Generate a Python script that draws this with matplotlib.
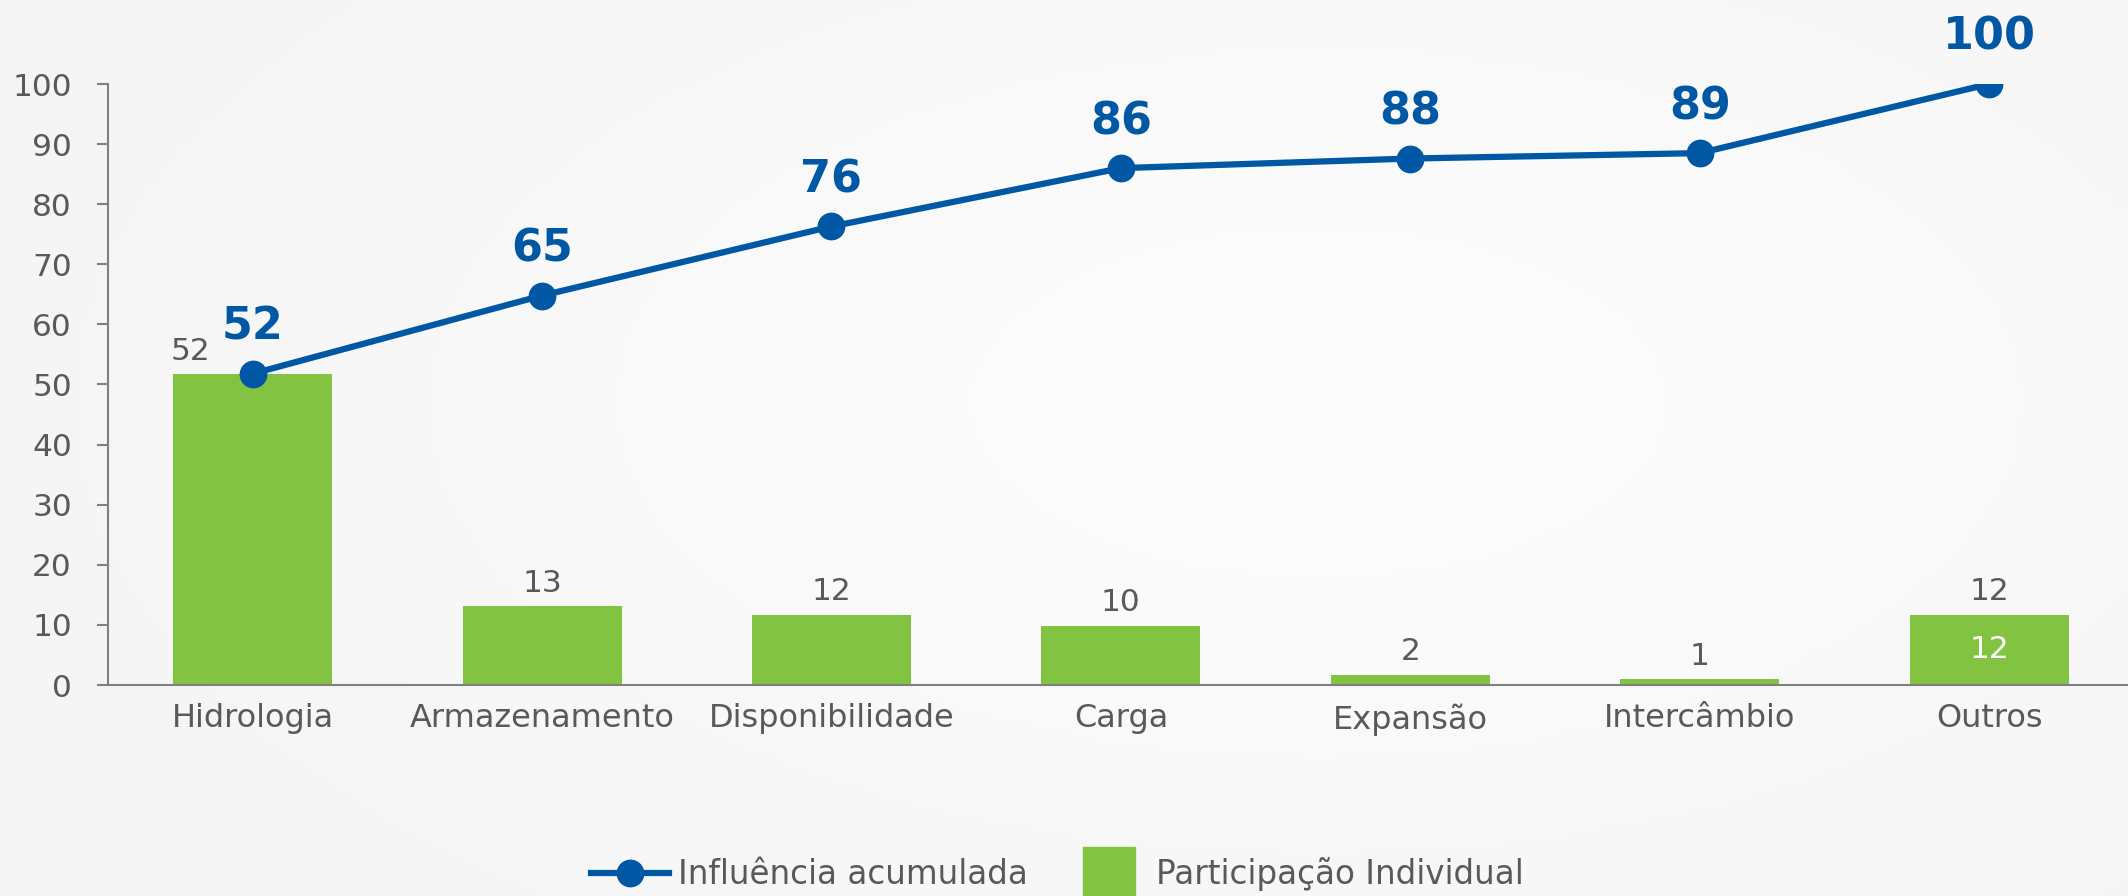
import numpy as np
import matplotlib
matplotlib.use("Agg")
import matplotlib.pyplot as plt
from matplotlib.lines import Line2D

# dados
categorias = ["Hidrologia", "Armazenamento", "Disponibilidade", "Carga",
              "Expansão", "Intercâmbio", "Outros"]
participacao = [51.7, 13.1, 11.7, 9.9, 1.7, 1.0, 11.7]
rotulos_barras = ["52", "13", "12", "10", "2", "1", "12"]
acumulada = [51.8, 64.8, 76.3, 86.0, 87.6, 88.5, 100.0]
rotulos_linha = ["52", "65", "76", "86", "88", "89", "100"]
yticks = [0, 10, 20, 30, 40, 50, 60, 70, 80, 90, 100]

azul = "#0057A3"
verde = "#82C341"
cinza = "#595959"

W, H = 2128, 896
fig = plt.figure(figsize=(W / 100, H / 100), dpi=100)
fig.patch.set_facecolor("#F4F4F4")

# fundo com gradiente radial suave
bg = fig.add_axes([0, 0, 1, 1], zorder=-10)
gx, gy = np.meshgrid(np.linspace(0, 1, 400), np.linspace(0, 1, 200))
r = np.sqrt(((gx - 0.62) / 0.75) ** 2 + ((gy - 0.45) / 0.9) ** 2)
val = 0.992 - 0.035 * np.clip(r, 0, 1)
bg.imshow(np.dstack([val, val, val]), extent=[0, 1, 0, 1], aspect="auto")
bg.axis("off")

# área do gráfico em pixels: esquerda 108, direita 2128, base 685, topo 84
ax = fig.add_axes([108 / W, (H - 685) / H, (W - 108) / W, (685 - 84) / H])
ax.set_facecolor("none")
x = np.arange(len(categorias))

ax.bar(x, participacao, width=0.55, color=verde, zorder=2)
ax.plot(x, acumulada, color=azul, lw=4.5, marker="o", markersize=19, zorder=3)

# rótulos das barras (cinza)
for i, (v, t) in enumerate(zip(participacao, rotulos_barras)):
    dx = -0.215 if i == 0 else 0
    ax.annotate(t, (x[i] + dx, v), xytext=(0, 6), textcoords="offset points",
                ha="center", va="bottom", fontsize=22.5, color=cinza)
# rótulo interno branco em "Outros"
ax.text(x[-1], participacao[-1] / 2, rotulos_barras[-1], ha="center",
        va="center", fontsize=22.5, color="white", zorder=4)

# rótulos da linha (azul, negrito)
for i, (v, t) in enumerate(zip(acumulada, rotulos_linha)):
    ax.annotate(t, (x[i], v), xytext=(0, 18), textcoords="offset points",
                ha="center", va="bottom", fontsize=32, fontweight="bold",
                color=azul, annotation_clip=False)

ax.set_xlim(-0.5, 6.48)
ax.set_ylim(0, 100)
ax.set_yticks(yticks)
ax.set_xticks(x)
ax.set_xticklabels(categorias)
ax.tick_params(axis="y", length=8, width=1.5, color="#808080", pad=18,
               labelsize=22.5, labelcolor=cinza)
ax.tick_params(axis="x", length=0, pad=13, labelsize=23, labelcolor=cinza)
for s in ["top", "right"]:
    ax.spines[s].set_visible(False)
for s in ["left", "bottom"]:
    ax.spines[s].set_color("#808080")
    ax.spines[s].set_linewidth(1.5)

handles = [
    Line2D([], [], color=azul, lw=4.5, marker="o", markersize=19),
    Line2D([], [], color=verde, lw=0, marker="s", markersize=37),
]
leg = fig.legend(handles, ["Influência acumulada", "Participação Individual"],
                 loc="center", bbox_to_anchor=(0.497, 0.024), ncol=2,
                 frameon=False, fontsize=23.5, handlelength=2.4,
                 handletextpad=0.25, columnspacing=1.3)
for t in leg.get_texts():
    t.set_color(cinza)

fig.savefig("out.png", dpi=100, facecolor=fig.get_facecolor())
